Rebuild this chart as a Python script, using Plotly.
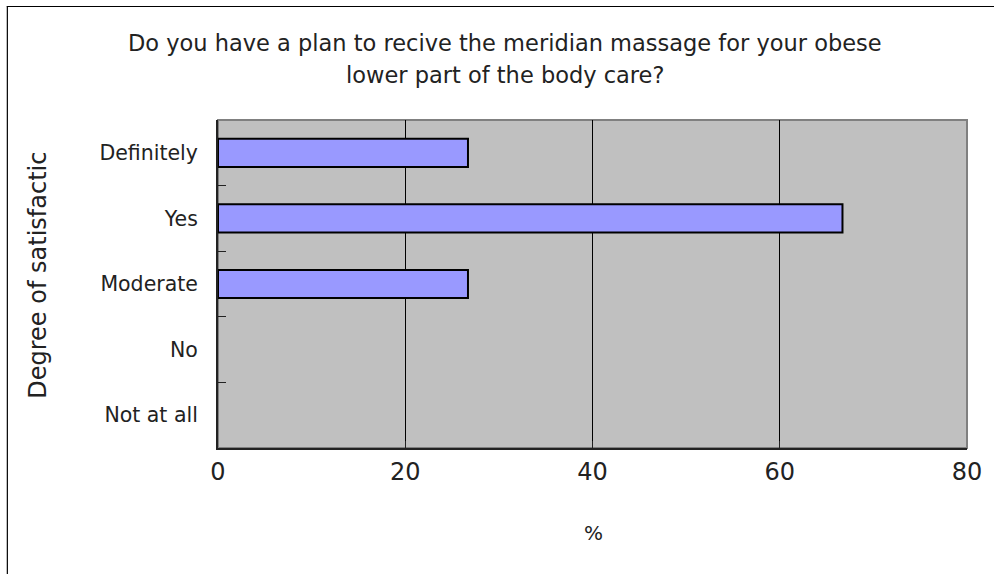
import plotly.graph_objects as go

categories = ["Definitely", "Yes", "Moderate", "No", "Not at all"]
values = [26.7, 66.7, 26.7, 0, 0]
x_ticks = [0, 20, 40, 60, 80]

title_lines = ["Do you have a plan to recive the meridian massage for your obese",
               "lower part of the body care?"]
x_title = "%"
y_title = "Degree of satisfactic"

FONT = "DejaVu Sans"
TXT = "#222222"

W, H = 994, 574
ML, MR, MT, MB = 218, 24, 120, 126
PW = W - ML - MR
PH = H - MT - MB


def px_x(p):
    return (p - ML) / PW


def px_y(p):
    return (H - MB - p) / PH


fig = go.Figure()
fig.add_trace(go.Bar(
    y=categories,
    x=values,
    orientation="h",
    marker=dict(color="#9999FF",
                line=dict(color="#000000", width=[2 if v > 0 else 0 for v in values])),
    showlegend=False,
    hoverinfo="skip",
))

fig.update_layout(
    width=W, height=H,
    margin=dict(l=ML, r=MR, t=MT, b=MB, pad=0),
    paper_bgcolor="white",
    plot_bgcolor="#C0C0C0",
    bargap=0.57,
    font=dict(family=FONT, color=TXT),
    showlegend=False,
)

fig.update_xaxes(
    range=[0, 80],
    tickvals=x_ticks,
    ticktext=[str(v) for v in x_ticks],
    tickfont=dict(size=24, family=FONT, color=TXT),
    showgrid=True, gridcolor="#000000", gridwidth=1,
    zeroline=False,
    showline=True, linecolor="#222222", linewidth=2,
    ticks="inside", ticklen=7, tickcolor="#222222",
    ticklabelstandoff=1,
)
fig.update_yaxes(
    categoryorder="array",
    categoryarray=categories,
    autorange="reversed",
    tickfont=dict(size=20.5, family=FONT, color=TXT),
    showgrid=False,
    zeroline=False,
    showline=True, linecolor="#222222", linewidth=2,
    ticks="inside", ticklen=8, tickcolor="#222222",
    tickson="boundaries",
    ticklabelstandoff=14,
)

# plot frame (gray top/right edges)
fig.add_shape(type="rect", xref="paper", yref="paper", x0=0, x1=1, y0=0, y1=1,
              line=dict(color="#808080", width=2), fillcolor="rgba(0,0,0,0)", layer="below")

# outer image border (left and top)
fig.add_shape(type="line", xref="paper", yref="paper",
              x0=px_x(6.5), x1=px_x(6.5), y0=px_y(6), y1=px_y(600),
              line=dict(color="#000000", width=1.2))
fig.add_shape(type="line", xref="paper", yref="paper",
              x0=px_x(6), x1=px_x(1000), y0=px_y(6.5), y1=px_y(6.5),
              line=dict(color="#000000", width=1.2))

# title (two lines)
for line_text, yc in zip(title_lines, [43, 75]):
    fig.add_annotation(text=line_text, xref="paper", yref="paper",
                       x=px_x(506), y=px_y(yc), xanchor="center", yanchor="middle",
                       showarrow=False, align="center",
                       font=dict(size=22.5, family=FONT, color=TXT))
# x axis title
fig.add_annotation(text=x_title, xref="paper", yref="paper",
                   x=px_x(595), y=px_y(533), xanchor="center", yanchor="middle",
                   showarrow=False, font=dict(size=20, family=FONT, color=TXT))
# y axis title
fig.add_annotation(text=y_title, xref="paper", yref="paper",
                   x=px_x(37), y=px_y(275), xanchor="center", yanchor="middle",
                   textangle=-90, showarrow=False,
                   font=dict(size=24, family=FONT, color=TXT))

fig.write_html("out.html",
               config={"displayModeBar": False},
               post_script="document.body.style.margin='0';document.body.style.overflow='hidden';")
